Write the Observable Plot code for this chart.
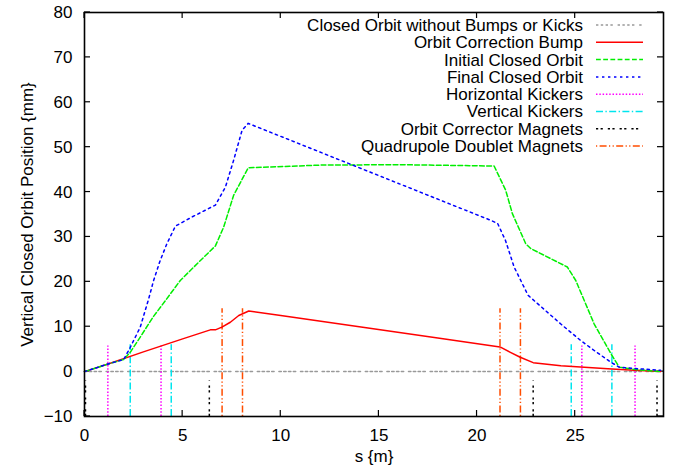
<!DOCTYPE html>
<html>
<head>
<meta charset="utf-8">
<script src="https://cdn.jsdelivr.net/npm/d3@7"></script>
<script src="https://cdn.jsdelivr.net/npm/@observablehq/plot@0.6"></script>
<style>
  html, body { margin: 0; padding: 0; background: #fff; }
  #chart { width: 678px; height: 475px; }
</style>
</head>
<body>
<div id="chart"></div>
<script>
// ---- data ----
const baselineS = [0, 29.35];
const baselineV = [0, 0];

const bumpS = [0, 1.2, 3, 5, 6.41, 6.67, 7.0, 7.43, 7.86, 8.37, 10, 14, 18, 21.17, 21.7, 22.2, 22.86, 24.27, 26.87, 28, 29.35];
const bumpV = [0, 1.7, 4.4, 7.3, 9.3, 9.3, 9.9, 11.0, 12.5, 13.5, 12.5, 10.0, 7.5, 5.5, 4.3, 3.2, 2.0, 1.3, 0.6, 0.3, 0.0];

const initS = [0, 1.2, 2.0, 2.33, 2.84, 3.5, 4.12, 4.88, 5.8, 6.67, 7.09, 7.6, 8.34, 12, 16, 20.87, 21.46, 21.8, 22.48, 22.74, 24.6, 25.03, 25.97, 26.82, 27.24, 28, 29.35];
const initV = [0, 1.7, 2.7, 4.3, 7.7, 12.2, 15.8, 20.3, 24.3, 28, 32.2, 39.3, 45.4, 46.0, 46.1, 45.8, 40.4, 35.2, 28.5, 27.4, 23.3, 20.3, 10.6, 4.0, 1.0, 0.5, 0];

const finalS = [0, 1.2, 2.0, 2.33, 2.84, 3.27, 3.52, 3.86, 4.2, 4.63, 5.5, 6.67, 7.18, 7.6, 8.03, 8.34, 20.7, 21.05, 21.45, 21.89, 22.6, 24.27, 25.29, 25.97, 26.82, 27.24, 28, 29.35];
const finalV = [0, 1.7, 2.7, 5.4, 9.9, 16.2, 20.3, 24.8, 28.5, 32.4, 34.5, 37.1, 41.1, 47.1, 53.8, 55.3, 33.7, 33.0, 29.2, 23.3, 17.0, 10.6, 6.9, 4.7, 2.1, 1.0, 0.7, 0.3];

const hKickS = [1.19, 3.9, 25.34, 28.05];
const hKickRange = [-10, 5.7];
const vKickS = [2.33, 4.42, 24.8, 26.87];
const vKickRange = [-10, 6];
const correctorS = [0.05, 6.36, 22.86, 29.17];
const correctorRange = [-10, -2];
const quadS = [7.01, 8.05, 21.17, 22.21];
const quadRange = [-10, 14];

const xTicks = [0, 5, 10, 15, 20, 25];
const yTicks = [-10, 0, 10, 20, 30, 40, 50, 60, 70, 80];
const xDomain = [0, 29.5];
const yDomain = [-10, 80];

const seriesNames = [
  "Closed Orbit without Bumps or Kicks",
  "Orbit Correction Bump",
  "Initial Closed Orbit",
  "Final Closed Orbit",
  "Horizontal Kickers",
  "Vertical Kickers",
  "Orbit Corrector Magnets",
  "Quadrupole Doublet Magnets"
];
const seriesColors = ["#999999", "#ff0000", "#00ee00", "#0000ff", "#ff00ff", "#00e5ee", "#000000", "#ff4d00"];
const seriesDash = ["2.4,2.4,2.4,2.4,2.4,2.4,2.4,4.8", null, "4.8,2.4", "2.4,3.6", "1.5,1.8", "7,2.4,1.4,2.4", "2.2,2.4,2.2,5", "1.2,2.4,7,2.4,1.2,2.4"];

// ---- build ----
const pts = (s, v) => s.map((d, i) => ({s: d, v: v[i]}));
const rules = (s, r) => s.map(d => ({s: d, y1: r[0], y2: r[1]}));

function line(i, s, v) {
  return Plot.line(pts(s, v), {x: "s", y: "v", stroke: seriesColors[i], strokeWidth: 1.5,
    strokeDasharray: seriesDash[i] || undefined});
}
function rule(i, s, r) {
  return Plot.ruleX(rules(s, r), {x: "s", y1: "y1", y2: "y2", stroke: seriesColors[i], strokeWidth: 1.5,
    strokeDasharray: seriesDash[i] || undefined});
}

// inward ticks on all four sides, placed through Plot's own scales
function innerTicks(index, scales, values, dimensions) {
  const {width, height, marginLeft, marginRight, marginTop, marginBottom} = dimensions;
  const L = marginLeft, R = width - marginRight, T = marginTop, B = height - marginBottom;
  const g = d3.create("svg:g").attr("stroke", "#000").attr("stroke-width", 1.2);
  const len = 6;
  xTicks.forEach(t => {
    const x = scales.x(t);
    g.append("line").attr("x1", x).attr("x2", x).attr("y1", B).attr("y2", B - len);
    g.append("line").attr("x1", x).attr("x2", x).attr("y1", T).attr("y2", T + len);
  });
  yTicks.forEach(t => {
    const y = scales.y(t);
    g.append("line").attr("x1", L).attr("x2", L + len).attr("y1", y).attr("y2", y);
    g.append("line").attr("x1", R).attr("x2", R - len).attr("y1", y).attr("y2", y);
  });
  return g.node();
}

function legend(index, scales, values, dimensions) {
  const right = dimensions.width - dimensions.marginRight;
  const g = d3.create("svg:g");
  seriesNames.forEach((name, i) => {
    const y = dimensions.marginTop + 13 + i * 17.3;
    g.append("text")
      .attr("x", right - 80).attr("y", y).attr("dy", "0.35em")
      .attr("text-anchor", "end").attr("fill", "#000")
      .text(name);
    const l = g.append("line")
      .attr("x1", right - 67).attr("x2", right - 20)
      .attr("y1", y).attr("y2", y)
      .attr("stroke", seriesColors[i]).attr("stroke-width", 1.5);
    if (seriesDash[i]) l.attr("stroke-dasharray", seriesDash[i]);
  });
  return g.node();
}

const chart = Plot.plot({
  width: 678,
  height: 475,
  marginLeft: 84,
  marginRight: 15,
  marginTop: 12,
  marginBottom: 59,
  style: {fontFamily: "'Liberation Sans', Arial, Helvetica, sans-serif", fontSize: "17px", background: "#fff", color: "#000"},
  x: {domain: xDomain},
  y: {domain: yDomain},
  marks: [
    // tick labels
    Plot.axisX({anchor: "bottom", ticks: xTicks, tickSize: 0, tickPadding: 12, label: null}),
    Plot.axisY({anchor: "left", ticks: yTicks, tickSize: 0, tickPadding: 12, label: null}),
    innerTicks,
    // axis titles
    Plot.text(["Vertical Closed Orbit Position {mm}"], {frameAnchor: "left", dx: -57, rotate: -90, textAnchor: "middle", text: d => d, fill: "#000"}),
    Plot.text(["s {m}"], {frameAnchor: "bottom", dy: 45, textAnchor: "middle", text: d => d, fill: "#000"}),
    // data
    line(0, baselineS, baselineV),
    rule(6, correctorS, correctorRange),
    rule(4, hKickS, hKickRange),
    rule(5, vKickS, vKickRange),
    rule(7, quadS, quadRange),
    line(1, bumpS, bumpV),
    line(2, initS, initV),
    line(3, finalS, finalV),
    Plot.frame({stroke: "#000", strokeWidth: 1.6}),
    legend
  ]
});
document.getElementById("chart").appendChild(chart);
</script>
</body>
</html>
